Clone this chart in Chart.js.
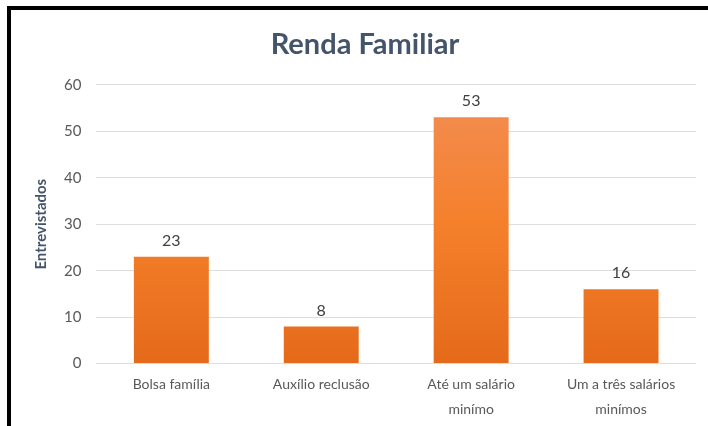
<!DOCTYPE html>
<html>
<head>
<meta charset="utf-8">
<script src="https://cdn.jsdelivr.net/npm/chart.js@4/dist/chart.umd.min.js"></script>
<style>
  html, body { margin: 0; padding: 0; background: #fff; }
  #wrap { position: relative; width: 708px; height: 426px; }
  canvas { display: block; }
</style>
</head>
<body>
<div id="wrap"><canvas id="c" width="708" height="426"></canvas></div>
<script>
const categories = ["Bolsa família", "Auxílio reclusão", ["Até um salário", "minímo"], ["Um a três salários", "minímos"]];
const values = [23, 8, 53, 16];
const yTicks = [0, 10, 20, 30, 40, 50, 60];
const chartTitle = "Renda Familiar";
const yTitle = "Entrevistados";

const frame = {
  id: 'frame',
  beforeDraw(chart) {
    const ctx = chart.ctx;
    ctx.save();
    ctx.fillStyle = '#fff';
    ctx.fillRect(0, 0, chart.width, chart.height);
    ctx.fillStyle = '#000';
    ctx.fillRect(7, 6, chart.width - 7, 4);
    ctx.fillRect(7, 6, 4, chart.height - 6);
    ctx.restore();
  }
};

const valueLabels = {
  id: 'valueLabels',
  afterDatasetsDraw(chart) {
    const ctx = chart.ctx;
    const meta = chart.getDatasetMeta(0);
    ctx.save();
    ctx.font = '16px Lato';
    ctx.fillStyle = '#404040';
    ctx.textAlign = 'center';
    ctx.textBaseline = 'bottom';
    meta.data.forEach((bar, i) => {
      ctx.fillText(String(values[i]), bar.x, bar.y - 8);
    });
    ctx.restore();
  }
};

function barGradient(context) {
  const chart = context.chart;
  const area = chart.chartArea;
  if (!area) return '#F58025';
  const el = context.element;
  const top = el && el.y != null ? el.y : area.top;
  const bottom = el && el.base != null ? el.base : area.bottom;
  const g = chart.ctx.createLinearGradient(0, top, 0, bottom);
  g.addColorStop(0, '#F28E55');
  g.addColorStop(0.5, '#F5802B');
  g.addColorStop(1, '#E46A1A');
  return g;
}

new Chart(document.getElementById('c'), {
  type: 'bar',
  data: {
    labels: categories,
    datasets: [{
      data: values,
      backgroundColor: barGradient,
      borderWidth: 0,
      categoryPercentage: 1.0,
      barPercentage: 0.5
    }]
  },
  options: {
    responsive: false,
    animation: false,
    devicePixelRatio: 1,
    layout: { padding: { left: 34, right: 12, top: 16, bottom: 4 } },
    plugins: {
      legend: { display: false },
      tooltip: { enabled: false },
      title: {
        display: true,
        text: chartTitle,
        color: '#44546A',
        font: { family: 'Lato', size: 29, weight: 'bold' },
        padding: { top: 11, bottom: 23 }
      }
    },
    scales: {
      x: {
        grid: { display: false, drawBorder: false },
        border: { display: false },
        ticks: {
          color: '#595959',
          font: { family: 'Lato', size: 14, lineHeight: 1.8 },
          maxRotation: 0,
          autoSkip: false,
          padding: 0
        }
      },
      y: {
        min: 0,
        max: 60,
        afterBuildTicks(scale) { scale.ticks = yTicks.map(v => ({ value: v })); },
        grid: { color: '#DEDEDE', lineWidth: 1, drawTicks: false },
        border: { display: false },
        ticks: {
          color: '#595959',
          font: { family: 'Lato', size: 15 },
          padding: 15
        },
        title: {
          display: true,
          text: yTitle,
          color: '#44546A',
          font: { family: 'Lato', size: 15, weight: 'bold', lineHeight: 1.0 },
          padding: { top: 0, bottom: 0 }
        }
      }
    }
  },
  plugins: [frame, valueLabels]
});
</script>
</body>
</html>
